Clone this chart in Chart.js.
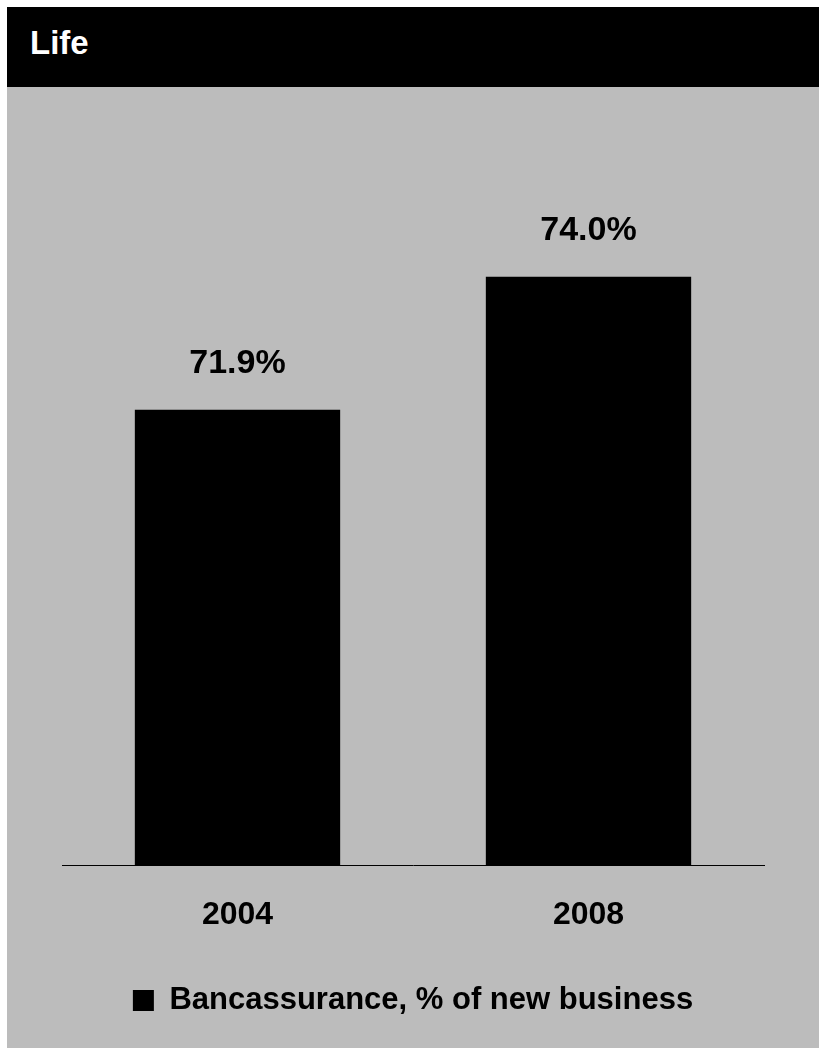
<!DOCTYPE html>
<html>
<head>
<meta charset="utf-8">
<script src="https://cdn.jsdelivr.net/npm/chart.js@4.4.1/dist/chart.umd.min.js"></script>
<style>
  html, body { margin: 0; padding: 0; background: #fff; }
  body { width: 819px; height: 1048px; position: relative; overflow: hidden; font-family: "Liberation Sans", Arial, sans-serif; }
  #head { position: absolute; left: 7px; top: 7px; right: 0; height: 80px; background: #000; color: #fff; font-weight: bold; font-size: 33px; line-height: 72px; padding-left: 23px; box-sizing: border-box; }
  #wrap { position: absolute; left: 7px; top: 87px; width: 812px; height: 961px; background: #bcbcbc; }
</style>
</head>
<body>
<div id="head">Life</div>
<div id="wrap"><canvas id="bars" width="812" height="961"></canvas></div>
<script>
const years = ['2004', '2008'];
const bancassurance = [71.9, 74.0];
const seriesName = 'Bancassurance, % of new business';

// value labels above each bar
const valueLabels = {
    id: 'valueLabels',
    afterDatasetsDraw(chart) {
        const ctx = chart.ctx;
        const meta = chart.getDatasetMeta(0);
        ctx.save();
        ctx.font = 'bold 34px "Liberation Sans", Arial, sans-serif';
        ctx.fillStyle = '#000';
        ctx.textAlign = 'center';
        ctx.textBaseline = 'bottom';
        meta.data.forEach((bar, i) => {
            ctx.fillText(bancassurance[i].toFixed(1) + '%', bar.x, bar.y - 29);
        });
        ctx.restore();
    }
};

const ctx1 = document.getElementById('bars').getContext('2d');
const chart = new Chart(ctx1, {
    type: 'bar',
    data: {
        labels: years,
        datasets: [{
            label: seriesName,
            data: bancassurance,
            backgroundColor: '#000',
            borderWidth: 0,
            barPercentage: 0.585,
            categoryPercentage: 1
        }]
    },
    options: {
        responsive: false,
        animation: false,
        layout: { padding: { top: 63, left: 55, right: 55, bottom: 22 } },
        plugins: {
            legend: {
                position: 'bottom',
                labels: {
                    color: '#000',
                    boxWidth: 21,
                    boxHeight: 21,
                    padding: 21,
                    font: { family: '"Liberation Sans", Arial, sans-serif', size: 31, weight: 'bold' }
                }
            },
            tooltip: { enabled: false }
        },
        scales: {
            x: {
                grid: { display: false, drawTicks: false },
                border: { display: true, color: '#000', width: 1 },
                ticks: {
                    color: '#000',
                    padding: 30,
                    font: { family: '"Liberation Sans", Arial, sans-serif', size: 32, weight: 'bold' }
                }
            },
            y: {
                display: false,
                min: 64.7,
                max: 76
            }
        }
    },
    plugins: [valueLabels]
});
</script>
</body>
</html>
